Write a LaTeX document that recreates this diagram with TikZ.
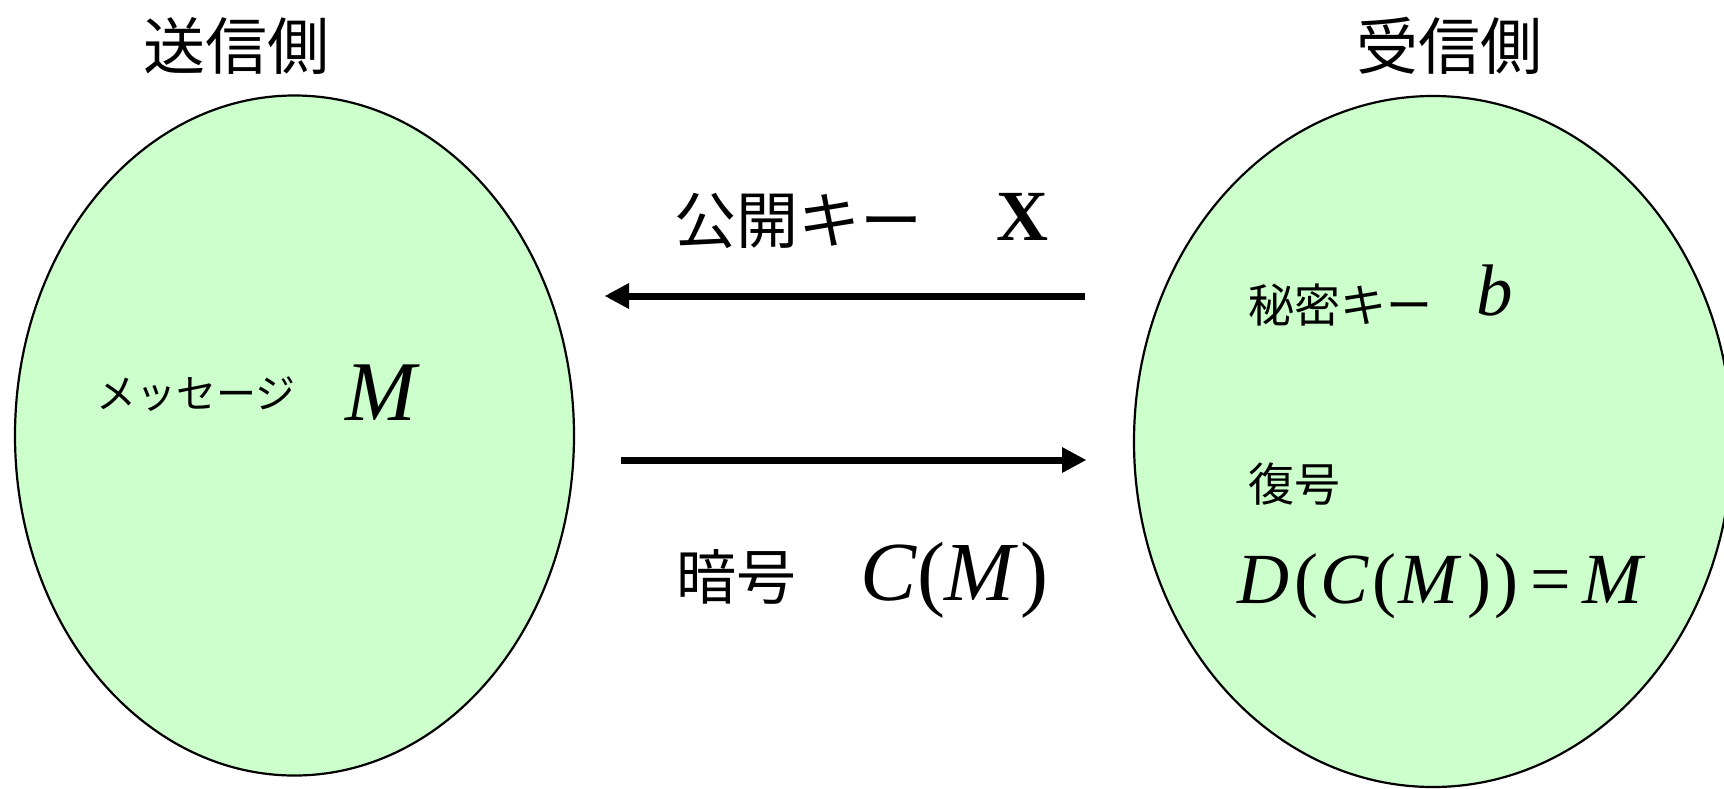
\documentclass[tikz,border=0pt]{standalone}
\usepackage{fontspec}
\newfontfamily\cjk{Noto Sans CJK JP}
\newfontfamily\tnr{Liberation Serif}
\usetikzlibrary{shapes.geometric,arrows.meta}
\definecolor{pale}{HTML}{CCFFCC}
\begin{document}
\begin{tikzpicture}[x=1pt,y=-1pt,
  party/.style={ellipse, draw=black, line width=2.2pt, fill=pale, inner sep=0pt},
  jp/.style={inner sep=0pt, font=\cjk\fontsize{#1}{#1}\selectfont},
  mth/.style={inner sep=0pt, font=\tnr\fontsize{#1}{#1}\selectfont},
  msgarrow/.style={-{Triangle[length=24pt,width=26pt,line width=0pt]}, line width=7pt}]
\useasboundingbox (0,0) rectangle (1724,788);
\begin{scope}
\clip (0,0) rectangle (1724,788);
\node[party, minimum width=559pt, minimum height=680pt] (sender) at (294.5,435.5) {};
\node[party, minimum width=598pt, minimum height=691pt] (receiver) at (1433,441.5) {};
\end{scope}
% titles
\node[jp=62] (stitle) at (236,46) {送信側};
\node[jp=62] (rtitle) at (1449,46) {受信側};
% public key
\node[jp=62, anchor=west] (pubkey) at (674,221) {公開キー};
\node[mth=72, anchor=base west] (X) at (996,240) {\bfseries X};
% arrows
\coordinate (a1s) at (1085,296);
\coordinate (a1e) at (605,296);
\draw[msgarrow] (a1s) -- (a1e);
\coordinate (a2s) at (621,460);
\coordinate (a2e) at (1086,460);
\draw[msgarrow] (a2s) -- (a2e);
% cipher
\node[jp=60, anchor=west] (cipher) at (676,577) {暗号};
\node[mth=84, anchor=base west] (CM) at (860,600) {\textit{C}(\textit{M}\kern2pt)};
% message
\node[jp=40, anchor=west] (msg) at (96,394) {メッセージ};
\node[mth=85, anchor=base west] (M) at (345,420) {\textit{M}};
% receiver texts
\node[jp=46, anchor=west] (sec) at (1248,305) {秘密キー};
\node[mth=73, anchor=base west] (b) at (1476,315) {\textit{b}};
\node[jp=46, anchor=west] (dec) at (1248,484) {復号};
\node[mth=72, anchor=base west] (eq) at (1237,603) {\textit{D}\kern5pt(\kern2pt\textit{C}\kern4pt(\kern2pt\textit{M}\kern5pt)\kern3pt)\kern12pt=\kern12pt\textit{M}};
\end{tikzpicture}
\end{document}
